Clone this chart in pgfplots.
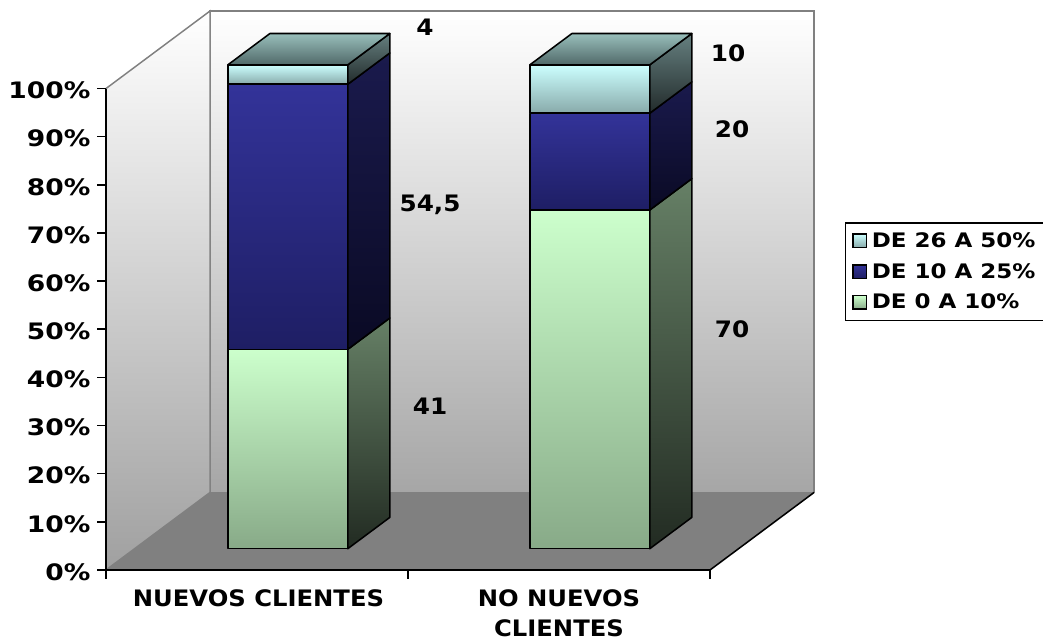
\documentclass[border=0pt]{standalone}
\usepackage{fontspec}
\usepackage{pgfplots}
\pgfplotsset{compat=1.18}
\setmainfont{DejaVu Sans}
% wide bold cuts for the tick, category, value and legend texts
\newfontfamily\ticksfont[FakeStretch=1.17]{DejaVu Sans}
\newfontfamily\catfont[FakeStretch=1.07]{DejaVu Sans}
\newfontfamily\valfont[FakeStretch=1.09]{DejaVu Sans}
\newfontfamily\legfont[FakeStretch=1.15]{DejaVu Sans}

% palette of the three bands: front, side and top faces
\tikzset{
  greenfront/.style={top color={rgb,255:red,204;green,255;blue,204}, bottom color={rgb,255:red,136;green,170;blue,136}},
  greenside/.style={top color={rgb,255:red,102;green,128;blue,102}, bottom color={rgb,255:red,34;green,43;blue,34}},
  bluefront/.style={top color={rgb,255:red,51;green,51;blue,153}, bottom color={rgb,255:red,30;green,30;blue,100}},
  blueside/.style={top color={rgb,255:red,26;green,26;blue,77}, bottom color={rgb,255:red,10;green,10;blue,36}},
  cyanfront/.style={top color={rgb,255:red,204;green,255;blue,255}, bottom color={rgb,255:red,136;green,170;blue,170}},
  cyanside/.style={top color={rgb,255:red,102;green,128;blue,128}, bottom color={rgb,255:red,34;green,43;blue,43}},
  cyantop/.style={top color={rgb,255:red,153;green,191;blue,187}, bottom color={rgb,255:red,80;green,105;blue,105}},
  backwall/.style={top color=white, bottom color={rgb,255:red,166;green,166;blue,166}},
  sidewall/.style={top color=white, bottom color={rgb,255:red,160;green,160;blue,160}},
}

% bar footprint in axis units
\def\barw{0.397}
\def\yf{0.275}
\def\yb{0.679}
\def\fullh{100.5}

% one stacked band: front face and side face
\newcommand\band[4]{%
  \addplot3[draw=black, line width=1.15pt, line join=round, #3, forget plot] coordinates
    {(\xl,\yf,#1) (\xr,\yf,#1) (\xr,\yf,#2) (\xl,\yf,#2)} --cycle;
  \addplot3[draw=black, line width=1.15pt, line join=round, #4, forget plot] coordinates
    {(\xr,\yf,#1) (\xr,\yb,#1) (\xr,\yb,#2) (\xr,\yf,#2)} --cycle;
}
% a whole column from the three stated values, rescaled to the full height
\newcommand\column[4]{%
  \pgfmathsetmacro\xl{#1}
  \pgfmathsetmacro\xr{#1+\barw}
  \pgfmathsetmacro\tot{#2+#3+#4}
  \pgfmathsetmacro\za{#2/\tot*\fullh}
  \pgfmathsetmacro\zb{(#2+#3)/\tot*\fullh}
  \band{0}{\za}{greenfront}{greenside}
  \band{\za}{\zb}{bluefront}{blueside}
  \band{\zb}{\fullh}{cyanfront}{cyanside}
  \addplot3[draw=black, line width=1.15pt, line join=round, cyantop, forget plot] coordinates
    {(\xl,\yf,\fullh) (\xr,\yf,\fullh) (\xr,\yb,\fullh) (\xl,\yb,\fullh)} --cycle;
}

\begin{document}
\begin{tikzpicture}
\path[use as bounding box] (0pt,0pt) rectangle (782.25pt,479.25pt);
\begin{axis}[
  anchor=origin, at={(79.5pt,51.75pt)},
  x={(226.5pt,0pt)}, y={(78pt,58.125pt)}, z={(0pt,3.611pt)},
  xmin=0, xmax=2, ymin=0, ymax=1, zmin=0, zmax=100,
  axis lines=left, axis line style={-, line width=1.15pt, black},
  y axis line style={draw=none},
  clip=false, axis on top,
  major tick length=0pt,
  ztick={0,10,...,100},
  zticklabels={0\%,10\%,20\%,30\%,40\%,50\%,60\%,70\%,80\%,90\%,100\%},
  z tick label style={anchor=east, inner xsep=0pt, xshift=-11.5pt, yshift=-1.5pt},
  ytick=\empty,
  xtick={0,1,2}, xticklabels={},
  tick label style={font=\fontsize{17}{19}\ticksfont\bfseries, black},
  legend style={at={(1.044,0.622)}, anchor=north west, draw=black, line width=1pt,
    font=\fontsize{15}{18}\legfont\bfseries, row sep=6.5pt, inner sep=5pt, cells={anchor=west}},
  legend image code/.code={\draw[#1, line width=0.9pt] (4pt,-5pt) rectangle (14pt,5pt); \path (15.5pt,0pt);},
]
% floor and the two walls
\addplot3[draw=none, fill={rgb,255:red,128;green,128;blue,128}, forget plot] coordinates
  {(0,0,0) (2,0,0) (2,1,0) (0,1,0)} --cycle;
\addplot3[draw={rgb,255:red,128;green,128;blue,128}, line width=1.1pt, backwall, forget plot] coordinates
  {(0,1,0) (2,1,0) (2,1,100) (0,1,100)} --cycle;
\addplot3[draw={rgb,255:red,128;green,128;blue,128}, line width=1.1pt, sidewall, forget plot] coordinates
  {(0,0,0) (0,1,0) (0,1,100) (0,0,100)} --cycle;
\addplot3[draw=black, line width=1.15pt, forget plot] coordinates {(2,0,0) (2,1,0)};

% outward tick strokes on the value axis and the category axis
\pgfplotsinvokeforeach{0,10,...,100}{
  \addplot3[draw=black, line width=1.15pt, forget plot] coordinates {(0,0,#1) (-0.03,0,#1)};
}
\pgfplotsinvokeforeach{0,1,2}{
  \addplot3[draw=black, line width=1.15pt, forget plot] coordinates {(#1,0,0) (#1,0,-1.9)};
}

% columns: left edge, then lowest, middle and upper band
\column{0.309}{41}{54.5}{4}
\column{1.309}{70}{20}{10}

\addlegendimage{cyanfront}
\addlegendentry{DE 26 A 50\%}
\addlegendimage{bluefront}
\addlegendentry{DE 10 A 25\%}
\addlegendimage{greenfront}
\addlegendentry{DE 0 A 10\%}

% category names
\node[anchor=north, align=center, font=\fontsize{17}{22.5}\catfont\bfseries] at (axis cs:0.505,0,-3.2) {NUEVOS CLIENTES};
\node[anchor=north, align=center, font=\fontsize{17}{22.5}\catfont\bfseries] at (axis cs:1.5,0,-3.2) {NO NUEVOS\\CLIENTES};
% value labels
\begin{scope}[font=\fontsize{17}{19}\valfont\bfseries]
\node at (axis cs:1.056,0,112.8) {4};
\node at (axis cs:1.073,0,75.8) {54,5};
\node at (axis cs:1.073,0,34) {41};
\node at (axis cs:2.06,0,107.4) {10};
\node at (axis cs:2.073,0,91.6) {20};
\node at (axis cs:2.073,0,50) {70};
\end{scope}
\end{axis}
\end{tikzpicture}
\end{document}
